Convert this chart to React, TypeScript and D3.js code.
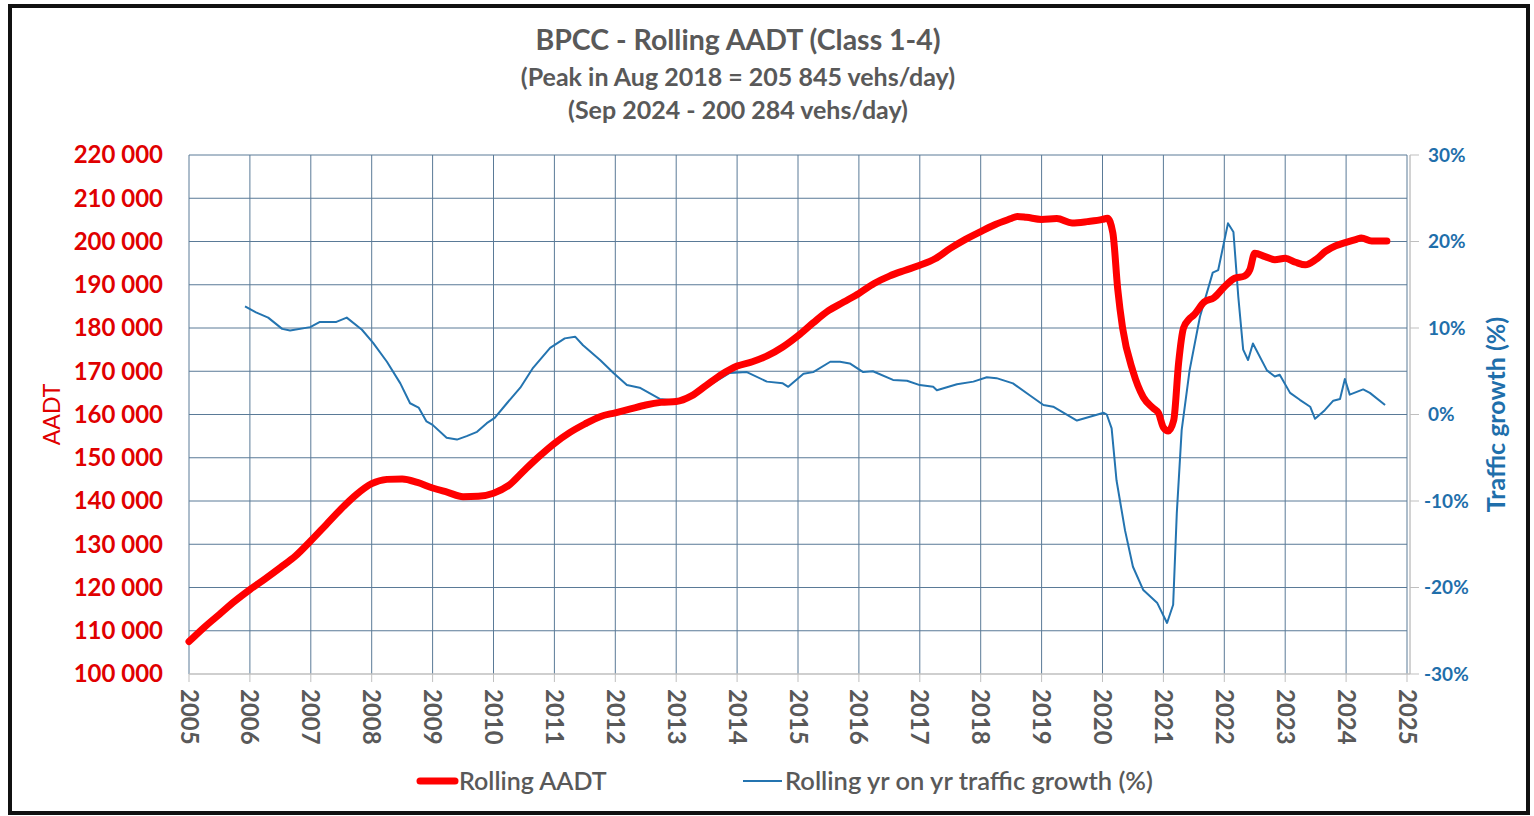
import React from 'react';
import * as d3 from 'd3';

// Rolling AADT (vehicles/day, thousands) by decimal year
const aadtYears = [
  2005.0, 2005.25, 2005.5, 2005.75, 2006.0, 2006.25, 2006.5, 2006.75, 2007.0, 2007.25, 2007.5, 2007.75,
  2008.0, 2008.25, 2008.5, 2008.75, 2009.0, 2009.25, 2009.5, 2009.75, 2010.0, 2010.25, 2010.5, 2010.75,
  2011.0, 2011.25, 2011.5, 2011.75, 2012.0, 2012.25, 2012.5, 2012.75, 2013.0, 2013.25, 2013.5, 2013.75,
  2014.0, 2014.25, 2014.5, 2014.75, 2015.0, 2015.25, 2015.5, 2015.75, 2016.0, 2016.25, 2016.5, 2016.75,
  2017.0, 2017.25, 2017.5, 2017.75, 2018.0, 2018.25, 2018.5, 2018.6, 2018.75, 2019.0, 2019.25, 2019.5,
  2019.75, 2020.0, 2020.08, 2020.17, 2020.25, 2020.33, 2020.5, 2020.67, 2020.83, 2020.92, 2021.0, 2021.08,
  2021.17, 2021.25, 2021.33, 2021.42, 2021.5, 2021.67, 2021.83, 2022.0, 2022.17, 2022.33, 2022.42, 2022.5,
  2022.67, 2022.83, 2023.0, 2023.17, 2023.33, 2023.5, 2023.67, 2023.83, 2024.0, 2024.17, 2024.25, 2024.42,
  2024.67,
];
const aadtValues = [
  107.5, 110.8, 113.8, 116.8, 119.5, 122.0, 124.6, 127.3, 130.8, 134.5, 138.2, 141.5,
  144.0, 145.0, 145.1, 144.3, 143.0, 142.0, 141.0, 141.1, 141.8, 143.6, 147.0, 150.3,
  153.3, 155.8, 157.8, 159.5, 160.4, 161.3, 162.2, 162.8, 163.0, 164.3, 166.8, 169.3,
  171.2, 172.2, 173.6, 175.6, 178.2, 181.2, 184.0, 186.0, 188.0, 190.3, 192.0, 193.3,
  194.5, 196.0, 198.4, 200.5, 202.3, 204.0, 205.3, 205.8, 205.6, 205.1, 205.3, 204.3,
  204.6, 205.1, 205.4, 202.0, 189.0, 180.0, 170.0, 164.0, 161.5, 160.3, 157.0, 156.2,
  158.7, 172.0, 180.0, 182.0, 183.0, 186.0, 187.0, 189.5, 191.5, 192.0, 193.5, 197.3,
  196.5, 195.8, 196.1, 195.2, 194.6, 195.8, 197.8, 199.0, 199.8, 200.5, 200.8, 200.1,
  200.1,
];

// Rolling year-on-year traffic growth (%)
const growthYears = [
  2005.92, 2006.1, 2006.3, 2006.53, 2006.66, 2006.99, 2007.15, 2007.42, 2007.59, 2007.84, 2008.02, 2008.25,
  2008.47, 2008.63, 2008.77, 2008.9, 2009.0, 2009.23, 2009.4, 2009.56, 2009.73, 2009.89, 2010.02, 2010.22,
  2010.44, 2010.65, 2010.93, 2011.17, 2011.34, 2011.47, 2011.75, 2011.97, 2012.19, 2012.4, 2012.73, 2013.0,
  2013.11, 2013.55, 2013.88, 2014.16, 2014.49, 2014.75, 2014.84, 2015.09, 2015.25, 2015.53, 2015.69, 2015.85,
  2016.07, 2016.23, 2016.56, 2016.79, 2017.0, 2017.22, 2017.28, 2017.61, 2017.88, 2018.1, 2018.26, 2018.53,
  2018.81, 2019.03, 2019.19, 2019.58, 2020.02, 2020.07, 2020.15, 2020.23, 2020.37, 2020.5, 2020.67, 2020.9,
  2021.06, 2021.16, 2021.22, 2021.3, 2021.43, 2021.6, 2021.81, 2021.9, 2022.06, 2022.15, 2022.23, 2022.31,
  2022.39, 2022.47, 2022.7, 2022.83, 2022.91, 2023.08, 2023.24, 2023.41, 2023.49, 2023.65, 2023.79, 2023.9,
  2023.98, 2024.06, 2024.28, 2024.39, 2024.64,
];
const growthValues = [
  12.5, 11.8, 11.2, 9.9, 9.7, 10.1, 10.7, 10.7, 11.2, 9.8, 8.3, 6.1,
  3.6, 1.3, 0.8, -0.8, -1.2, -2.7, -2.9, -2.5, -2.0, -1.0, -0.4, 1.3,
  3.1, 5.4, 7.7, 8.8, 9.0, 8.0, 6.3, 4.8, 3.4, 3.1, 1.8, 1.6,
  1.7, 3.4, 4.8, 4.9, 3.8, 3.6, 3.2, 4.7, 4.9, 6.1, 6.1, 5.9,
  4.9, 5.0, 4.0, 3.9, 3.4, 3.2, 2.8, 3.5, 3.8, 4.3, 4.2, 3.6,
  2.2, 1.1, 0.9, -0.7, 0.2, 0.0, -1.6, -7.6, -13.4, -17.6, -20.3, -21.8,
  -24.1, -22.0, -11.4, -1.8, 5.1, 11.3, 16.4, 16.7, 22.1, 21.1, 13.6, 7.5,
  6.3, 8.2, 5.1, 4.4, 4.6, 2.5, 1.7, 0.9, -0.5, 0.5, 1.6, 1.8,
  4.1, 2.3, 2.9, 2.5, 1.1,
];

const yearTicks = d3.range(2005, 2026);
const aadtTicks = d3.range(100, 221, 10);
const growthTicks = d3.range(-30, 31, 10);

const titleLines = [
  'BPCC - Rolling AADT (Class 1-4)',
  '(Peak in Aug 2018 = 205 845 vehs/day)',
  '(Sep 2024 - 200 284 vehs/day)',
];

const W = 1534;
const H = 816;
const plot = { left: 189, right: 1407, top: 155, bottom: 674 };
const FONT = 'Lato, "Open Sans", sans-serif';
const GREY = '#595959';
const RED = '#e00000';
const BLUE = '#1f6fab';
const GRID = '#5a7a97';

export default function App() {
  const x = d3.scaleLinear().domain([2005, 2025]).range([plot.left, plot.right]);
  const yL = d3.scaleLinear().domain([100, 220]).range([plot.bottom, plot.top]);
  const yR = d3.scaleLinear().domain([-30, 30]).range([plot.bottom, plot.top]);

  const aadtLine = d3.line<number>()
    .x((d, i) => x(aadtYears[i]))
    .y((d) => yL(d))
    .curve(d3.curveMonotoneX);
  const growthLine = d3.line<number>()
    .x((d, i) => x(growthYears[i]))
    .y((d) => yR(d));

  const fmt = (v: number) => d3.format(',')(v * 1000).replace(/,/g, ' ');

  return (
    <svg width={W} height={H} style={{ position: 'absolute', left: 0, top: 0, background: '#fff' }}>
      <rect x={0} y={0} width={W} height={H} fill="#fff" />
      <rect x={10} y={6} width={1518} height={807} fill="none" stroke="#111" strokeWidth={4} />

      {/* titles */}
      {titleLines.map((t, i) => (
        <text key={t} x={738} y={[50, 86, 119][i]} textAnchor="middle" fontFamily={FONT}
          fontWeight="bold" fontSize={i === 0 ? 28.5 : 25} fill={GREY}>{t}</text>
      ))}

      {/* grid */}
      {aadtTicks.slice(1).map((v) => (
        <line key={'h' + v} x1={plot.left} x2={plot.right} y1={yL(v)} y2={yL(v)} stroke={GRID} strokeWidth={1} />
      ))}
      {yearTicks.map((yr) => (
        <line key={'v' + yr} x1={x(yr)} x2={x(yr)} y1={plot.top} y2={plot.bottom} stroke={GRID} strokeWidth={1} />
      ))}
      <line x1={plot.right + 3} x2={plot.right + 3} y1={plot.top} y2={plot.bottom} stroke="#a6a6a6" strokeWidth={1} />

      {/* bottom axis */}
      <line x1={plot.left} x2={plot.right + 3} y1={plot.bottom} y2={plot.bottom} stroke="#bfbfbf" strokeWidth={1.5} />
      {yearTicks.map((yr) => (
        <g key={'xt' + yr}>
          <line x1={x(yr)} x2={x(yr)} y1={plot.bottom} y2={plot.bottom + 8} stroke="#bfbfbf" />
          <text transform={`translate(${x(yr)},${plot.bottom + 15}) rotate(90)`} dy="0.35em"
            fontFamily={FONT} fontWeight="bold" fontSize={24} fill={GREY}>{yr}</text>
        </g>
      ))}

      {/* left axis */}
      {aadtTicks.map((v) => (
        <text key={'yl' + v} x={163} y={yL(v)} dy="0.35em" textAnchor="end" fontFamily={FONT}
          fontWeight="bold" fontSize={24} fill={RED}>{fmt(v)}</text>
      ))}
      <text transform={`translate(52,${(plot.top + plot.bottom) / 2}) rotate(-90)`} dy="0.35em" textAnchor="middle"
        fontFamily={FONT} fontSize={23} fill={RED}>AADT</text>

      {/* right axis */}
      {growthTicks.map((v) => (
        <g key={'yr' + v}>
          <line x1={plot.right + 3} x2={plot.right + 12} y1={yR(v)} y2={yR(v)} stroke="#bfbfbf" />
          <text x={v < 0 ? 1424 : 1428} y={yR(v)} dy="0.35em" fontFamily={FONT}
            fontWeight="bold" fontSize={19} fill={BLUE}>{v}%</text>
        </g>
      ))}
      <text transform={`translate(1496,${(plot.top + plot.bottom) / 2}) rotate(-90)`} dy="0.35em" textAnchor="middle"
        fontFamily={FONT} fontWeight="bold" fontSize={25} fill={BLUE}>Traffic growth (%)</text>

      {/* series */}
      <path d={growthLine(growthValues) || ''} fill="none" stroke="#2474b0" strokeWidth={2} strokeLinejoin="round" />
      <path d={aadtLine(aadtValues) || ''} fill="none" stroke="#ff0000" strokeWidth={7} strokeLinejoin="round" strokeLinecap="round" />

      {/* legend */}
      <line x1={420} x2={455} y1={781} y2={781} stroke="#ff0000" strokeWidth={7} strokeLinecap="round" />
      <text x={459} y={781} dy="0.35em" fontFamily={FONT} fontWeight="600" fontSize={25} fill={GREY}>Rolling AADT</text>
      <line x1={743} x2={782} y1={781} y2={781} stroke="#2474b0" strokeWidth={2} />
      <text x={785} y={781} dy="0.35em" fontFamily={FONT} fontWeight="600" fontSize={25.5} fill={GREY}>Rolling yr on yr traffic growth (%)</text>
    </svg>
  );
}
